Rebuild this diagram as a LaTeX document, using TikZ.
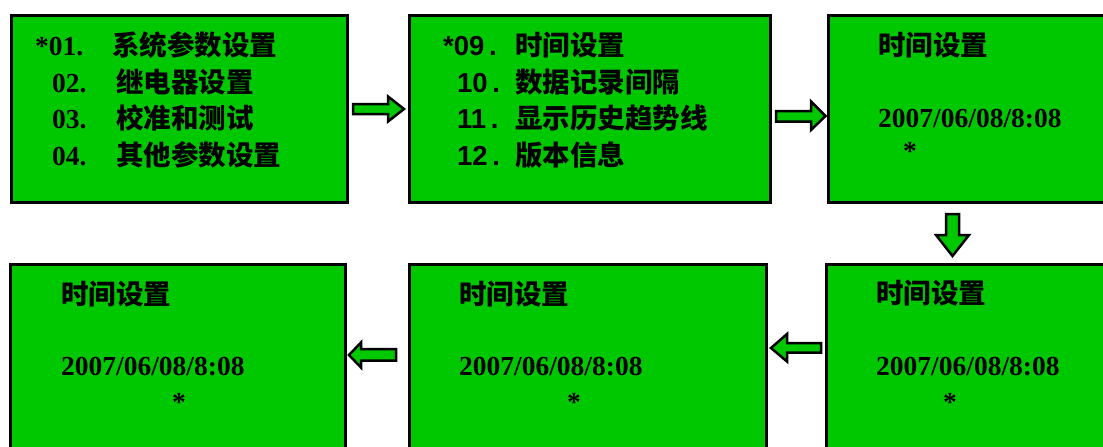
\documentclass[tikz,border=0pt]{standalone}
\usepackage{fontspec}
\setmainfont{Liberation Serif}
\newfontfamily\sansf{Liberation Sans}
\newfontfamily\cjk{Noto Sans CJK SC}
\definecolor{lcd}{RGB}{0,200,0}
\tikzset{
  screen/.style={draw=black, fill=lcd, line width=3pt, rectangle, inner sep=0pt},
  barrow/.style={draw=black, fill=lcd, line width=2.5pt, line join=miter},
  txt/.style={inner sep=0pt, anchor=base west, font=\fontsize{27.5}{30}\selectfont\bfseries},
  num/.style={txt},
  snum/.style={txt, font=\fontsize{27.5}{30}\selectfont\sansf\bfseries},
  zh/.style={txt, font=\fontsize{27.5}{30}\selectfont\cjk\bfseries},
  star/.style={txt, anchor=base}
}
\begin{document}
\begin{tikzpicture}[x=1pt,y=-1pt]
\useasboundingbox (0,0) rectangle (1103,447);
\fill[white] (0,0) rectangle (1103,447);
% screens
\node[screen, minimum width=336pt, minimum height=187pt] (b1) at (179.5,109) {};
\node[screen, minimum width=361pt, minimum height=187pt] (b2) at (590,109) {};
\node[screen, minimum width=300pt, minimum height=187pt] (b3) at (978.5,109) {};
\node[screen, minimum width=300pt, minimum height=200pt] (b4) at (976.5,364.5) {};
\node[screen, minimum width=357pt, minimum height=200pt] (b5) at (588,364.5) {};
\node[screen, minimum width=335pt, minimum height=200pt] (b6) at (178,364.5) {};
% arrows
\draw[barrow] (353,104) -- (388,104) -- (388,96.5) -- (404,109) -- (388,121.5) -- (388,114) -- (353,114) -- cycle;
\draw[barrow] (776,111) -- (811,111) -- (811,101.5) -- (825.5,116) -- (811,130) -- (811,121.5) -- (776,121.5) -- cycle;
\draw[barrow] (946,214) -- (959,214) -- (959,235) -- (969,235) -- (952.5,256) -- (936,235) -- (946,235) -- cycle;
\draw[barrow] (821,343) -- (787,343) -- (787,334) -- (771,348) -- (787,361.5) -- (787,352.5) -- (821,352.5) -- cycle;
\draw[barrow] (396,349) -- (361,349) -- (361,342.5) -- (349,355) -- (361,367.5) -- (361,360.5) -- (396,360.5) -- cycle;
% box 1
\node[num] (n11) at (35,55) {*01.};
\node[zh]  (t11) at (112,55) {系统参数设置};
\node[num] (n12) at (52,92) {02.};
\node[zh]  (t12) at (116,92) {继电器设置};
\node[num] (n13) at (52,128) {03.};
\node[zh]  (t13) at (116,128) {校准和测试};
\node[num] (n14) at (52,165) {04.};
\node[zh]  (t14) at (116,165) {其他参数设置};
% box 2
\node[snum] (n21) at (443,55) {*09\,.};
\node[zh]   (t21) at (515,55) {时间设置};
\node[snum] (n22) at (457,92) {10\,.};
\node[zh]   (t22) at (515,92) {数据记录间隔};
\node[snum] (n23) at (457,128) {11\,.};
\node[zh]   (t23) at (515,128) {显示历史趋势线};
\node[snum] (n24) at (457,165) {12\,.};
\node[zh]   (t24) at (515,165) {版本信息};
% box 3
\node[zh]  (t3) at (878,55) {时间设置};
\node[num] (d3) at (878,127) {2007/06/08/8:08};
\node[star] (s3) at (910,160) {*};
% box 4
\node[zh]  (t4) at (876,303) {时间设置};
\node[num] (d4) at (876,375) {2007/06/08/8:08};
\node[star] (s4) at (950,411) {*};
% box 5
\node[zh]  (t5) at (459,304) {时间设置};
\node[num] (d5) at (459,375) {2007/06/08/8:08};
\node[star] (s5) at (574,411) {*};
% box 6
\node[zh]  (t6) at (61,304) {时间设置};
\node[num] (d6) at (61,375) {2007/06/08/8:08};
\node[star] (s6) at (179,411) {*};
\end{tikzpicture}
\end{document}
